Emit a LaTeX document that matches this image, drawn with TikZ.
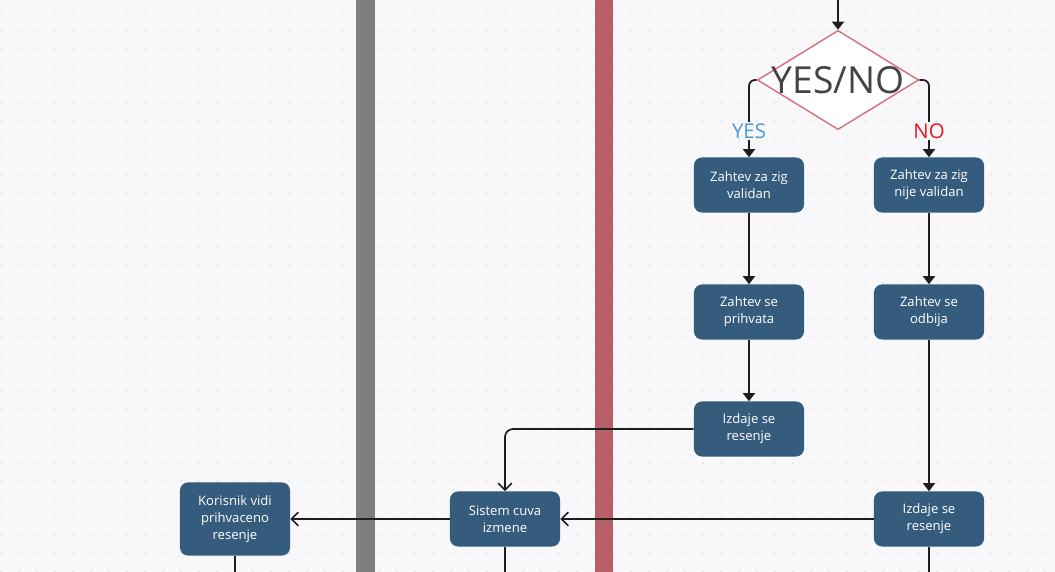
\documentclass[tikz,border=0pt]{standalone}
\usepackage{fontspec}
\setmainfont{Open Sans}
\usetikzlibrary{shapes.geometric,arrows.meta}
\definecolor{paperbg}{HTML}{F8F8FB}
\definecolor{griddot}{HTML}{DCDCE0}
\definecolor{boxblue}{HTML}{355B7D}
\definecolor{lanegray}{HTML}{7F7E7C}
\definecolor{lanered}{HTML}{B85F67}
\definecolor{decborder}{HTML}{D66F79}
\definecolor{yesblue}{HTML}{4D97D6}
\definecolor{nored}{HTML}{F0141E}
\definecolor{linedark}{HTML}{1E1E1E}
\begin{document}
\begin{tikzpicture}[
      x=0.025cm, y=-0.025cm,
      stepbox/.style={
          rectangle, rounded corners=0.2cm,
          fill=boxblue, text=white,
          minimum width=2.75cm, minimum height=1.375cm,
          align=center, inner sep=2pt,
          font=\fontsize{9.3}{12}\selectfont
      },
      decision/.style={
          diamond, draw=decborder, fill=white, line width=1pt,
          minimum width=4.03cm, minimum height=2.48cm, inner sep=0pt
      },
      branchlabel/.style={
          font=\fontsize{14.5}{16}\selectfont, inner sep=1pt
      },
      flow/.style={
          draw=linedark, line width=1.2pt,
          -{Triangle[length=0.2cm,width=0.3cm]}
      },
      pass/.style={
          draw=linedark, line width=1.2pt,
          -{Straight Barb[length=0.17cm,width=0.34cm]}
      },
      plain/.style={
          draw=linedark, line width=1.2pt
      }
  ]
    % page and dotted grid
    \useasboundingbox (0,0) rectangle (1055,572);
    \fill[paperbg] (0,0) rectangle (1055,572);
    \foreach \i in {0,...,58}
      \foreach \j in {0,...,31}
        \fill[griddot] (1+18*\i,13+18*\j) circle (0.022cm);

    % swimlane separators
    \fill[lanegray] (356,0) rectangle (375,572);
    \fill[lanered] (595,0) rectangle (613,572);

    % decision
    \coordinate (top) at (838,0);
    \node[decision, label={center:{\color[HTML]{444444}\fontsize{26.5}{28}\selectfont YES/NO}}] (dec) at (838,80) {};

    % branch labels
    \node[branchlabel, text=yesblue] (yes) at (749,131) {YES};
    \node[branchlabel, text=nored] (no) at (929,131) {NO};

    % yes branch
    \node[stepbox] (valid) at (749,185) {Zahtev za zig\\validan};
    \node[stepbox] (accept) at (749,312) {Zahtev se\\prihvata};
    \node[stepbox] (issueyes) at (749,429) {Izdaje se\\resenje};

    % no branch
    \node[stepbox] (invalid) at (929,185) {Zahtev za zig\\nije validan};
    \node[stepbox] (reject) at (929,312) {Zahtev se\\odbija};
    \node[stepbox] (issueno) at (929,519) {Izdaje se\\resenje};

    % system and user
    \node[stepbox] (save) at (505,519) {Sistem cuva\\izmene};
    \node[stepbox, minimum height=1.83cm] (user) at (235,519) {Korisnik vidi\\prihvaceno\\resenje};

    % loose ends at the bottom
    \coordinate (saveout) at (505,572);
    \coordinate (userout) at (235,572);
    \coordinate (noout) at (929,572);

    % edges
    \draw[flow] (top) -- (dec.north);
    \draw[plain, rounded corners=0.15cm] (dec.west) -| (yes.north);
    \draw[flow] (yes.south) -- (valid);
    \draw[plain, rounded corners=0.15cm] (dec.east) -| (no.north);
    \draw[flow] (no.south) -- (invalid);
    \draw[flow] (valid) -- (accept);
    \draw[flow] (accept) -- (issueyes);
    \draw[flow] (invalid) -- (reject);
    \draw[flow] (reject) -- (issueno);
    \draw[pass, rounded corners=0.2cm] (issueyes.west) -| (save.north);
    \draw[pass] (issueno) -- (save);
    \draw[pass] (save) -- (user);
    \draw[plain] (save) -- (saveout);
    \draw[plain] (user) -- (userout);
    \draw[plain] (issueno) -- (noout);
\end{tikzpicture}
\end{document}
